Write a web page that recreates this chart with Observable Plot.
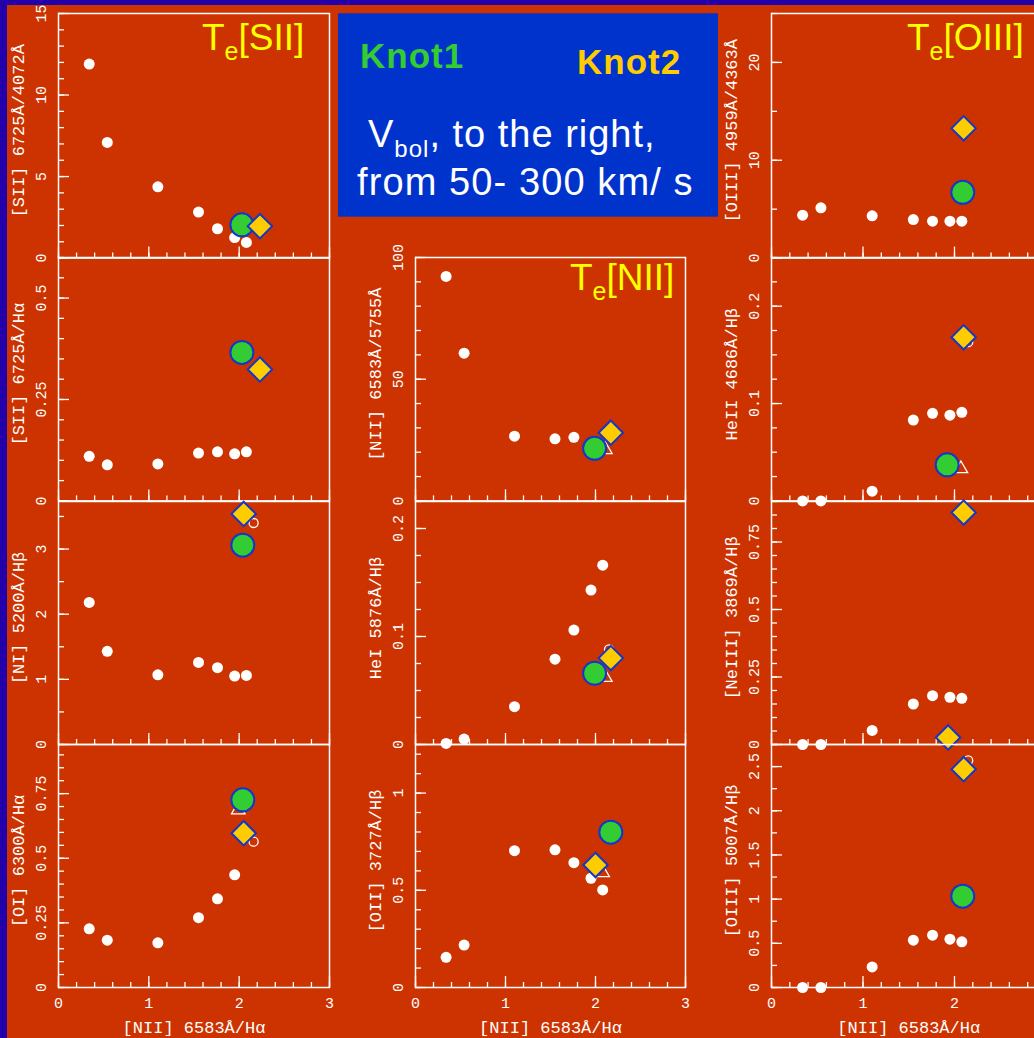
<!DOCTYPE html>
<html>
<head>
<meta charset="utf-8">
<script src="https://cdn.jsdelivr.net/npm/d3@7"></script>
<script src="https://cdn.jsdelivr.net/npm/@observablehq/plot@0.6"></script>
<style>
html, body { margin:0; padding:0; background:#CC3300; overflow:hidden; }
#page { position:relative; width:1034px; height:1038px; overflow:hidden; background:#CC3300; }
.panel { position:absolute; }
.panel svg { overflow:visible; max-width:none !important; }
#overlay { position:absolute; left:0; top:0; }
</style>
</head>
<body>
<div id="page"></div>
<script>
// ---------- DATA ----------
// shared x: [NII] 6583Å/Hα
const niiHa = [0.34, 0.54, 1.10, 1.55, 1.76, 1.95, 2.08];

// left column
const sii6725_4072 = [11.9, 7.09, 4.37, 2.82, 1.80, 1.26, 0.96];
const sii6725_Ha   = [0.110, 0.089, 0.091, 0.118, 0.121, 0.116, 0.121];
const ni5200_Hb    = [2.18, 1.43, 1.07, 1.26, 1.18, 1.05, 1.06];
const oi6300_Ha    = [0.227, 0.183, 0.173, 0.270, 0.343, 0.436, null];
// middle column
const nii6583_5755 = [92.2, 60.7, 26.6, 25.5, 26.1, null, null];
const hei5876_Hb   = [0.001, 0.005, 0.035, 0.079, 0.106, 0.143, 0.166];
const oii3727_Hb   = [0.155, 0.218, 0.704, 0.708, 0.642, 0.562, 0.502];
// right column
const oiii4959_4363 = [4.39, 5.14, 4.32, 3.94, 3.77, 3.77, 3.77];
const heii4686_Hb   = [0.0, 0.0, 0.010, 0.083, 0.090, 0.088, 0.091];
const neiii3869_Hb  = [0.0, 0.0, 0.052, 0.150, 0.181, 0.175, 0.171];
const oiii5007_Hb   = [0.0, 0.0, 0.233, 0.536, 0.592, 0.547, 0.517];

// panel order: L1 L2 L3 L4 M2 M3 M4 R1 R2 R3 R4
const panelTitles = ["[SII] 6725Å/4072Å", "[SII] 6725Å/Hα", "[NI] 5200Å/Hβ", "[OI] 6300Å/Hα",
  "[NII] 6583Å/5755Å", "HeI 5876Å/Hβ", "[OII] 3727Å/Hβ",
  "[OIII] 4959Å/4363Å", "HeII 4686Å/Hβ", "[NeIII] 3869Å/Hβ", "[OIII] 5007Å/Hβ"];
const panelSeries = [sii6725_4072, sii6725_Ha, ni5200_Hb, oi6300_Ha,
  nii6583_5755, hei5876_Hb, oii3727_Hb,
  oiii4959_4363, heii4686_Hb, neiii3869_Hb, oiii5007_Hb];
const panelCol = [0, 0, 0, 0, 1, 1, 1, 2, 2, 2, 2];
const panelRow = [0, 1, 2, 3, 1, 2, 3, 0, 1, 2, 3];
const yMax = [15, 0.6, 3.73, 0.94, 100, 0.225, 1.25, 25, 0.25, 0.9, 2.75];
const yTickLabels = [[0, 5, 10, 15], [0, 0.25, 0.5], [0, 1, 2, 3], [0, 0.25, 0.5, 0.75],
  [0, 50, 100], [0, 0.1, 0.2], [0, 0.5, 1],
  [0, 10, 20], [0, 0.1, 0.2], [0, 0.25, 0.5, 0.75], [0, 0.5, 1, 1.5, 2, 2.5]];
const yMinorStep = [1, 0.05, 0.5, 0.05, 10, 0.025, 0.1, 5, 0.025, 0.05, 0.25];
const xTicks = [0, 1, 2, 3];
// x tick labels visible per column (right column's "3" lies beyond the picture edge)
const xTickLabelsByCol = [[0, 1, 2, 3], [0, 1, 2, 3], [0, 1, 2]];
const xMinorStep = 0.2;
const xTitle = "[NII] 6583Å/Hα";

// Knot 1 (green circles) and Knot 2 (yellow diamonds), per panel
const knot1X = [2.03, 2.03, 2.04, 2.04, 1.99, 1.99, 2.17, 2.09, 1.92, null, 2.09];
const knot1Y = [2.04, 0.366, 3.06, 0.726, 21.6, 0.066, 0.799, 6.72, 0.037, null, 1.034];
const knot2X = [2.23, 2.23, 2.05, 2.05, 2.17, 2.17, 2.00, 2.10, 2.10, 2.10, 2.10];
const knot2Y = [1.96, 0.324, 3.54, 0.597, 28.0, 0.080, 0.630, 13.26, 0.168, 0.859, 2.47];
const knot2bX = [null, null, null, null, null, null, null, null, null, 1.93, null];
const knot2bY = [null, null, null, null, null, null, null, null, null, 0.026, null];
// partly hidden original markers (open triangle / open circle)
const openTriX = [null, null, null, 1.99, 2.11, 2.11, 2.08, null, 2.07, null, null];
const openTriY = [null, null, null, 0.687, 21.0, 0.062, 0.59, null, 0.033, null, null];
const openCircX = [null, null, 2.16, 2.16, null, 2.15, null, null, 2.15, null, 2.15];
const openCircY = [null, null, 3.40, 0.564, null, 0.088, null, null, 0.163, null, 2.57];

// ---------- LAYOUT ----------
const page = document.getElementById("page");
const ML = 70, MR = 16, MT = 16;
const colX = [58, 415, 770.7], colW = [271, 270, 274.5];
const rowY = [12.7, 257.3, 500.7, 744.3], rowH = [244.6, 243.4, 243, 243];
const fontMono = "'Liberation Mono', 'DejaVu Sans Mono', monospace";
const knotStroke = "#1238C8";
const pt = (x, y) => (x == null || y == null) ? [] : [{x, y}];

panelTitles.forEach((title, i) => {
  const c = panelCol[i], r = panelRow[i];
  const W = colW[c], H = rowH[r];
  const bottom = r === 3;
  const MB = bottom ? 60 : 16;
  const pts = niiHa.map((x, j) => ({x, y: panelSeries[i][j]})).filter(d => d.y != null);
  const k1 = pt(knot1X[i], knot1Y[i]);
  const k2 = pt(knot2X[i], knot2Y[i]).concat(pt(knot2bX[i], knot2bY[i]));
  const oT = pt(openTriX[i], openTriY[i]);
  const oC = pt(openCircX[i], openCircY[i]);
  const yMinor = d3.range(0, yMax[i] + 1e-9, yMinorStep[i]);
  const xMinor = d3.range(0, 3 + 1e-9, xMinorStep);
  const marks = [
    Plot.ruleY(yMinor, {y: d => d, stroke: "white", strokeWidth: 1.3, insetRight: W - 6}),
    Plot.ruleY(yTickLabels[i], {y: d => d, stroke: "white", strokeWidth: 1.3, insetRight: W - 11}),
    Plot.ruleX(xMinor, {x: d => d, stroke: "white", strokeWidth: 1.3, insetTop: H - 5}),
    Plot.ruleX(xTicks, {x: d => d, stroke: "white", strokeWidth: 1.3, insetTop: H - 11}),
    Plot.frame({stroke: "white", strokeWidth: 1.5}),
    Plot.axisY(yTickLabels[i], {anchor: "left", tickSize: 0, tickPadding: 17, tickRotate: -90,
      lineAnchor: "middle", textAnchor: "middle", tickFormat: d => String(d), label: null, fontSize: 15}),
    Plot.text([title], {frameAnchor: "left", dx: -40, dy: -5, rotate: -90, textAnchor: "middle", lineAnchor: "middle", fontSize: 17, fill: "white"}),
    Plot.dot(pts, {x: "x", y: "y", r: 5.5, fill: "white"}),
    Plot.dot(oT, {x: "x", y: "y", r: 5, symbol: "triangle", stroke: "white", strokeWidth: 1.3, fill: "none"}),
    Plot.dot(oC, {x: "x", y: "y", r: 4.5, stroke: "white", strokeWidth: 1.3, fill: "none"}),
    Plot.dot(k1, {x: "x", y: "y", r: 11.5, fill: "#33CC33", stroke: knotStroke, strokeWidth: 2}),
    Plot.dot(k2, {x: "x", y: "y", r: 11, symbol: "diamond2", fill: "#FFCC00", stroke: knotStroke, strokeWidth: 2})
  ];
  if (bottom) {
    marks.push(
      Plot.axisX(xTickLabelsByCol[c], {anchor: "bottom", tickSize: 0, tickPadding: 10, tickFormat: d => String(d), label: null, fontSize: 15}),
      Plot.text([xTitle], {frameAnchor: "bottom", dy: 40, textAnchor: "middle", lineAnchor: "middle", fontSize: 17, fill: "white"})
    );
  }
  const chart = Plot.plot({
    width: ML + W + MR, height: MT + H + MB,
    marginLeft: ML, marginRight: MR, marginTop: MT, marginBottom: MB,
    x: {domain: [0, 3], axis: null},
    y: {domain: [0, yMax[i]], axis: null, label: null},
    style: {background: "transparent", color: "white", fontFamily: fontMono, fontSize: "15px", overflow: "visible", maxWidth: "none"},
    marks
  });
  const div = document.createElement("div");
  div.className = "panel";
  div.style.left = (colX[c] - ML) + "px";
  div.style.top = (rowY[r] - MT) + "px";
  div.style.width = (ML + W + MR) + "px";
  div.appendChild(chart);
  page.appendChild(div);
});

// ---------- OVERLAY: info box, Te labels, border bands ----------
const ns = "http://www.w3.org/2000/svg";
const ov = document.createElementNS(ns, "svg");
ov.setAttribute("id", "overlay");
ov.setAttribute("width", 1034);
ov.setAttribute("height", 1038);
const sans = "'Liberation Sans', Arial, sans-serif";
ov.innerHTML = `
  <rect x="338" y="13.3" width="380" height="203.4" fill="#0033CC"/>
  <text x="360" y="68" fill="#33CC33" font-family="${sans}" font-weight="bold" font-size="35" letter-spacing="1">Knot1</text>
  <text x="577" y="74" fill="#FFCC00" font-family="${sans}" font-weight="bold" font-size="35" letter-spacing="1">Knot2</text>
  <text x="368" y="147" fill="white" font-family="${sans}" font-size="38" letter-spacing="1">V<tspan font-size="24" dy="10">bol</tspan><tspan dy="-10">, to the right,</tspan></text>
  <text x="357" y="195" fill="white" font-family="${sans}" font-size="38" letter-spacing="1.1">from 50- 300 km/ s</text>
  <text x="202" y="50" fill="#FFFF00" font-family="${sans}" font-size="37">T<tspan font-size="25" dy="10">e</tspan><tspan dy="-10">[SII]</tspan></text>
  <text x="570" y="290" fill="#FFFF00" font-family="${sans}" font-size="37">T<tspan font-size="25" dy="10">e</tspan><tspan dy="-10">[NII]</tspan></text>
  <text x="907" y="50" fill="#FFFF00" font-family="${sans}" font-size="37">T<tspan font-size="25" dy="10">e</tspan><tspan dy="-10">[OIII]</tspan></text>
  <rect x="0" y="0" width="1034" height="5" fill="#2200AA"/>
  <rect x="0" y="0" width="7" height="1038" fill="#2200AA"/>
`;
page.appendChild(ov);
</script>
</body>
</html>
